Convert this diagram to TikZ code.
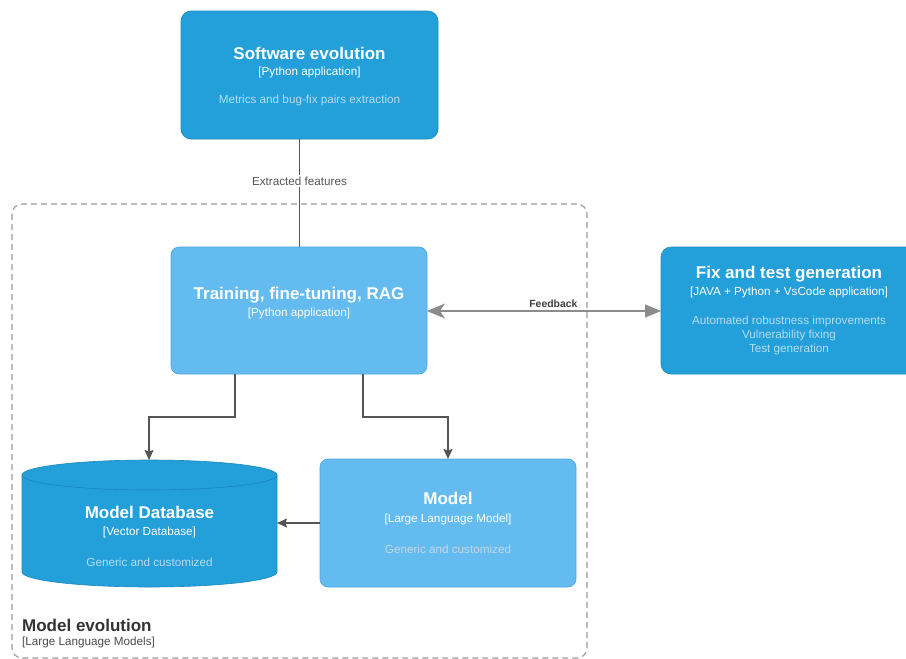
\documentclass[tikz,border=0pt]{standalone}
\usepackage{fontspec}
\setmainfont{Liberation Sans}
\usetikzlibrary{arrows.meta,positioning}
\definecolor{appblue}{HTML}{23A0DA}
\definecolor{appedge}{HTML}{1B87BC}
\definecolor{lightblue}{HTML}{63BBF0}
\definecolor{lightedge}{HTML}{4FA8DE}
\definecolor{desctext}{HTML}{B5DBF0}
\definecolor{desclight}{HTML}{C4D8E6}
\definecolor{framegray}{HTML}{9A9A9A}
\definecolor{linegray}{HTML}{555555}
\definecolor{fbgray}{HTML}{8C8C8C}
\tikzset{
  x=1pt, y=-1pt,
  appbox/.style={draw=appedge, fill=appblue, rounded corners=10pt, line width=0.6pt},
  lightbox/.style={draw=lightedge, fill=lightblue, rounded corners=8pt, line width=0.6pt},
  ttl/.style={text=white, font=\bfseries\fontsize{17}{19}\selectfont, inner sep=0pt},
  tech/.style={text=white, font=\fontsize{11.7}{13}\selectfont, inner sep=0pt},
  desc/.style={text=desctext, font=\fontsize{11.7}{14}\selectfont, inner sep=0pt, align=center},
  flow/.style={draw=linegray, line width=1.1pt, -{Stealth[length=10pt,width=9pt,inset=1.5pt]}},
  lbl/.style={font=\fontsize{11.7}{13}\selectfont, fill=white, inner sep=1.5pt},
}
\begin{document}
\begin{tikzpicture}
\useasboundingbox (0,0) rectangle (906,659);

% container boundary
\draw[framegray, dashed, dash pattern=on 6pt off 4pt, line width=1.1pt, rounded corners=10pt]
  (12,204) rectangle (587,658);
\node[anchor=west, font=\bfseries\fontsize{17}{19}\selectfont, text=black!80, inner sep=0pt] (cname) at (22,625) {Model evolution};
\node[anchor=west, font=\fontsize{11.7}{13}\selectfont, text=black!70, inner sep=0pt] (ctech) at (22,642) {[Large Language Models]};

% Software evolution
\draw[appbox] (181,11) rectangle (438,139);
\coordinate (swtop) at (299.5,139);
\node[ttl] (swt) at (309.5,53) {Software evolution};
\node[tech] (swk) at (309.5,72) {[Python application]};
\node[desc] (swd) at (309.5,100) {Metrics and bug-fix pairs extraction};

% Training
\draw[lightbox] (171,247) rectangle (427,374);
\coordinate (trtop) at (299.5,247);
\coordinate (trleft) at (235,374);
\coordinate (trright) at (363,374);
\coordinate (trfb) at (427,311);
\node[ttl] (trt) at (299,295) {Training, fine-tuning, RAG};
\node[tech] (trk) at (299,313) {[Python application]};

% Fix and test generation
\draw[appbox] (661,247) rectangle (918,374);
\coordinate (fxleft) at (661,311);
\node[ttl] (fxt) at (789,274) {Fix and test generation};
\node[tech] (fxk) at (789,292) {[JAVA + Python + VsCode application]};
\node[desc] (fxd) at (789,335) {Automated robustness improvements\\Vulnerability fixing\\Test generation};

% Model Database cylinder
\fill[appblue] (22,475) -- (22,572) arc[start angle=180, end angle=0, x radius=127.5, y radius=15]
  -- (277,475) arc[start angle=0, end angle=-180, x radius=127.5, y radius=15] -- cycle;
\draw[appedge, line width=0.6pt] (22,475) -- (22,572) arc[start angle=180, end angle=0, x radius=127.5, y radius=15] -- (277,475);
\draw[appedge, line width=0.6pt] (149.5,475) ellipse[x radius=127.5, y radius=15];
\coordinate (dbtop) at (149,460);
\coordinate (dbright) at (277,523);
\node[ttl] (dbt) at (149.5,512) {Model Database};
\node[tech] (dbk) at (149.5,532) {[Vector Database]};
\node[desc] (dbd) at (149.5,562) {Generic and customized};

% Model
\draw[lightbox] (320,459) rectangle (576,587);
\coordinate (mtop) at (448,459);
\coordinate (mleft) at (320,523);
\node[ttl] (mt) at (448,498) {Model};
\node[tech] (mk) at (448,519) {[Large Language Model]};
\node[desc, text=desclight] (md) at (448,549) {Generic and customized};

% connectors
\draw[linegray, line width=1.1pt] (swtop) -- node[lbl, pos=0.39] (ef) {Extracted features} (trtop);
\draw[flow] (trleft) |- (192,417) -| (dbtop);
\draw[flow] (trright) |- (405,417) -| (mtop);
\draw[flow] (mleft) -- (dbright);
\draw[fbgray, line width=1.3pt, {Stealth[length=18pt,width=15pt,inset=5pt]}-{Triangle[length=16pt,width=13pt]}]
  (trfb) -- node[pos=0.54, above=3pt, font=\bfseries\fontsize{10.4}{12}\selectfont, text=black!75, inner sep=0pt] (fb) {Feedback} (fxleft);
\end{tikzpicture}
\end{document}
